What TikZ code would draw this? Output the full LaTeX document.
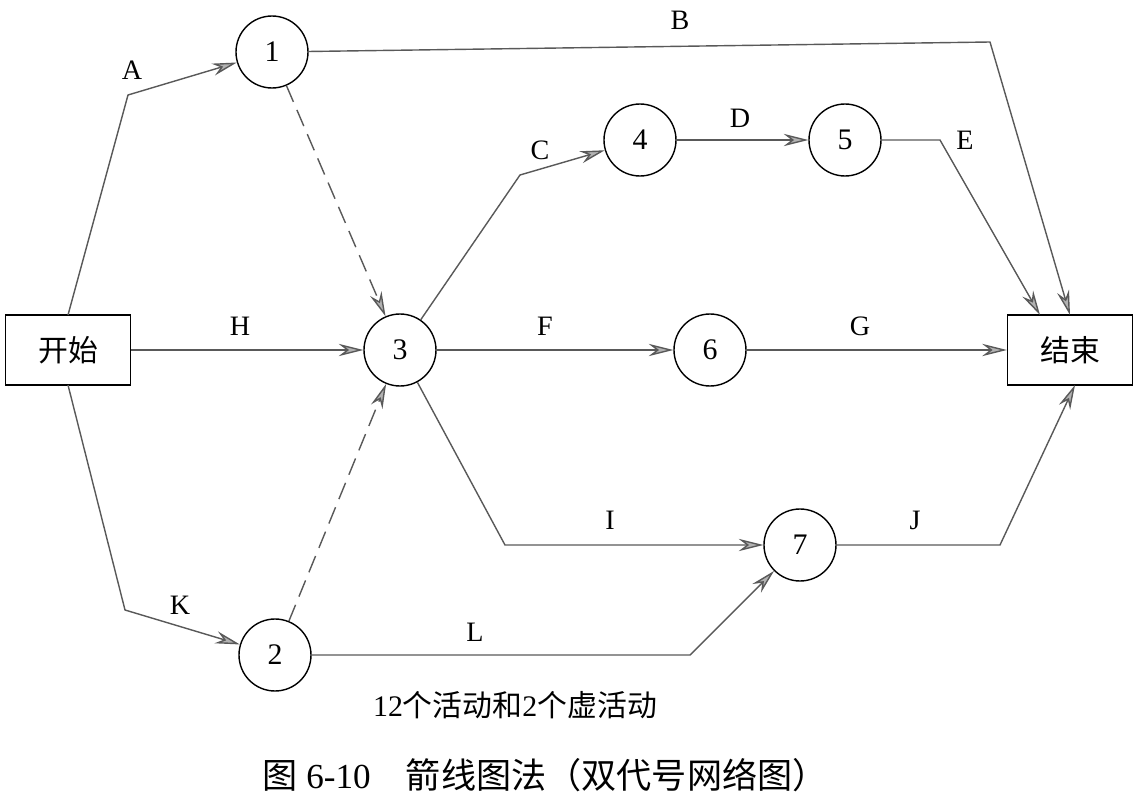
\documentclass[tikz,border=0pt]{standalone}
\usepackage{fontspec}
\setmainfont{Liberation Serif}
\newfontfamily\cjk{Noto Sans CJK SC}
\usetikzlibrary{arrows.meta}
\begin{document}
\begin{tikzpicture}[x=0.02cm,y=-0.02cm,
  st/.style={circle,draw,thick,minimum size=72*0.02cm,inner sep=0pt,font=\fontsize{17}{17}\selectfont},
  bx/.style={draw,thick,minimum width=125*0.02cm,minimum height=70*0.02cm,font=\cjk\fontsize{17}{17}\selectfont},
  ar/.style={draw=gray!70!black,thick,-{Stealth[length=14pt,width=7pt,fill=gray!60]}},
  dsh/.style={dash pattern=on 10pt off 5pt},
  lb/.style={font=\fontsize{16}{16}\selectfont}]
\useasboundingbox (0,0) rectangle (1134,808);
\node[bx] (s) at (68,350) {开始};
\node[bx] (e) at (1070,350) {结束};
\node[st] (n1) at (272,52) {1};
\node[st] (n2) at (275,655) {2};
\node[st] (n3) at (400,350) {3};
\node[st] (n4) at (640,140) {4};
\node[st] (n5) at (845,140) {5};
\node[st] (n6) at (710,350) {6};
\node[st] (n7) at (800,545) {7};
\coordinate (sT) at (68,315); \coordinate (sB) at (68,385);
\coordinate (eT1) at (1070,315); \coordinate (eT2) at (1040,315); \coordinate (eB) at (1075,385);
\draw[ar] (sT) -- (128,95) -- (n1);
\draw[ar] (n1) -- (990,42) -- (eT1);
\draw[ar,dsh] (n1) -- (n3);
\draw[ar] (n3) -- (520,175) -- (n4);
\draw[ar] (n4) -- (n5);
\draw[ar] (n5) -- (940,140) -- (eT2);
\draw[ar] (s) -- (n3);
\draw[ar] (n3) -- (n6);
\draw[ar] (n6) -- (e);
\draw[ar] (n3) -- (505,545) -- (n7);
\draw[ar] (n7) -- (1000,545) -- (eB);
\draw[ar] (sB) -- (125,610) -- (n2);
\draw[ar,dsh] (n2) -- (n3);
\draw[ar] (n2) -- (690,655) -- (n7);
\node[lb] (lA) at (132,70) {A};
\node[lb] (lB) at (680,20) {B};
\node[lb] (lC) at (540,150) {C};
\node[lb] (lD) at (740,118) {D};
\node[lb] (lE) at (965,140) {E};
\node[lb] (lH) at (240,326) {H};
\node[lb] (lF) at (545,326) {F};
\node[lb] (lG) at (860,326) {G};
\node[lb] (lI) at (610,520) {I};
\node[lb] (lJ) at (915,520) {J};
\node[lb] (lK) at (180,605) {K};
\node[lb] (lL) at (475,632) {L};
\node[font=\fontsize{17}{17}\selectfont] (c1) at (515,705) {12{\cjk 个活动和}2{\cjk 个虚活动}};
\node[font=\fontsize{20}{20}\selectfont] (c2) at (545,775) {{\cjk 图} 6-10\quad{\cjk 箭线图法（双代号网络图）}};
\end{tikzpicture}
\end{document}
